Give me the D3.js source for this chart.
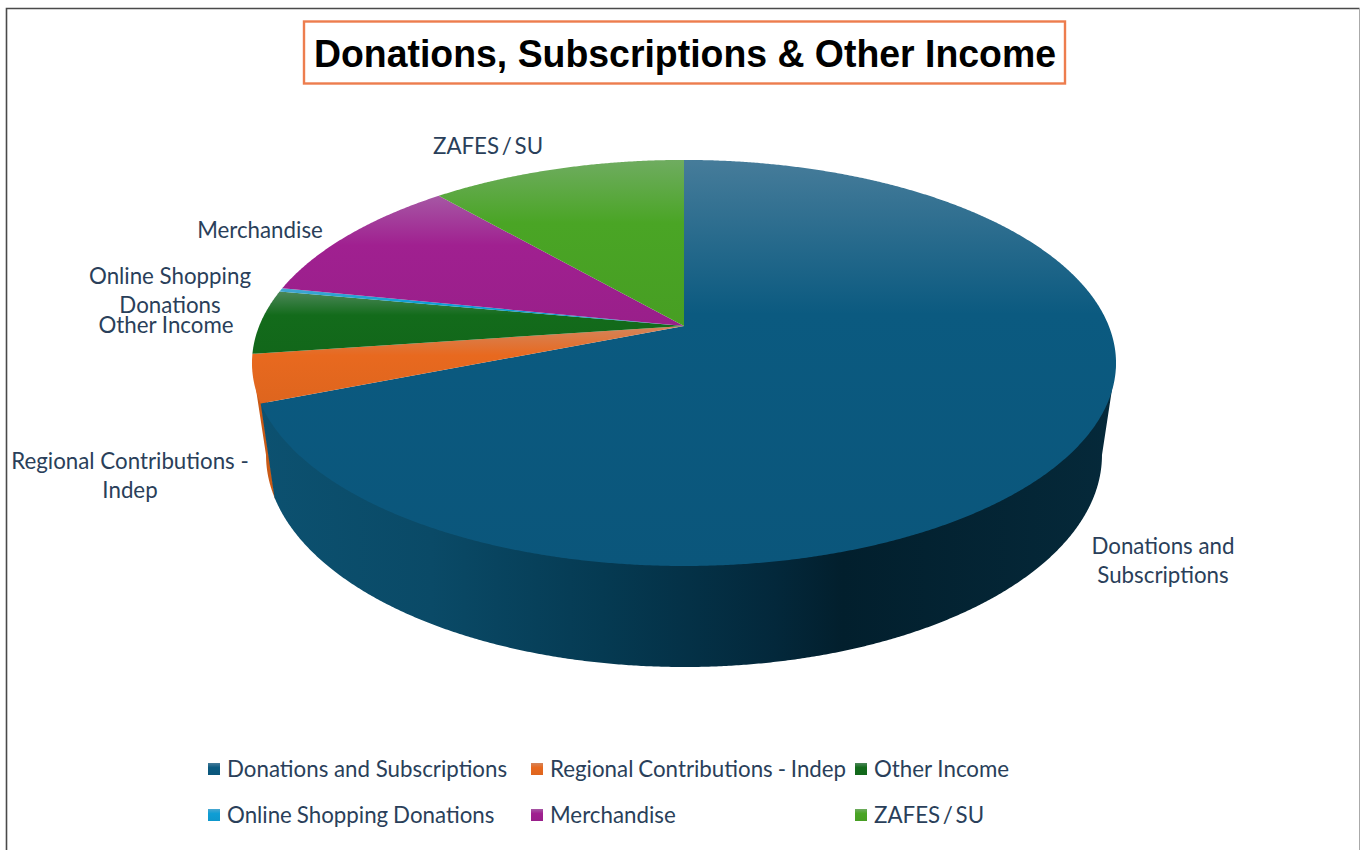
<!DOCTYPE html>
<html><head><meta charset="utf-8">
<style>html,body{margin:0;padding:0;background:#fff;overflow:hidden}svg{display:block}</style>
<script src="https://cdn.jsdelivr.net/npm/d3@7"></script></head>
<body><svg id="c" width="1360" height="850"></svg>
<script>
const categories = ["Donations and Subscriptions","Regional Contributions - Indep","Other Income","Online Shopping Donations","Merchandise","ZAFES / SU"];
const shares = [69.0,3.8,5.1,0.3,10.4,11.4];
const colors = ["#0b5a80","#e8691f","#136b1b","#0f9ed5","#a02090","#4aa525"];
const chartTitle = "Donations, Subscriptions & Other Income";
const sliceLabels = [["Donations and","Subscriptions"],["Regional Contributions -","Indep"],["Other Income"],["Online Shopping","Donations"],["Merchandise"],["ZAFES / SU"]];

// layout
const FONT = "Lato, 'Noto Sans', sans-serif";
const FONT_SIZE = 22.3;
const TEXT = "#2a3f5a";
const labelCentres = [[1163,546],[130,461],[166,325],[170,276],[260,230],[488,146]];
const lineGap = 29.3;
const legendCols = [208,531,855], legendRows = [769,815];
const cx = 684, k = 0.182;
const topRim = {A:424.8,B:196.3,y0:326};
const innerRim = {A:424.8*0.985,B:196.3*0.985,y0:326};
const botRim = {A:411,B:205,y0:416.4};
const proj = (r,a)=>{const u=Math.sin(a),v=Math.cos(a),w=1+k*v;return [cx+r.A*u/w,r.y0-r.B*v/w];};
const rimAngles = (a0,a1)=>{const n=Math.max(2,Math.ceil(Math.abs(a1-a0)/0.005));return d3.range(n+1).map(i=>a0+(a1-a0)*i/n);};
const line = d3.line();

const svg = d3.select("#c");
const defs = svg.append("defs");
const arcs = d3.pie().sort(null).value(d=>d)(shares);

colors.forEach((c,i)=>{
  const g = defs.append("linearGradient").attr("id","top"+i).attr("x1",0).attr("x2",0).attr("y1",0).attr("y2",1);
  const stops = [[0,d3.interpolateRgb(c,"#b0b8c8")(0.36)],[0.38,c],[1,d3.rgb(c).darker(0.12)]];
  g.selectAll("stop").data(stops).join("stop").attr("offset",d=>d[0]).attr("stop-color",d=>d[1]);
});
const wallStops = [[0,"#0c5170"],[0.2,"#0a4a67"],[0.4,"#053a52"],[0.6,"#03283b"],[0.68,"#021f2d"],[1,"#05293a"]];
const wg = defs.append("linearGradient").attr("id","wall").attr("x1",0).attr("x2",1).attr("y1",0).attr("y2",0);
wg.selectAll("stop").data(wallStops).join("stop").attr("offset",d=>d[0]).attr("stop-color",d=>d[1]);

// frame
svg.append("path").attr("d",line([[6.5,850],[6.5,8.5],[1359.5,8.5]])).attr("fill","none").attr("stroke","#4a4a4a").attr("stroke-width",1.6);
svg.append("line").attr("x1",1359.5).attr("x2",1359.5).attr("y1",8.5).attr("y2",850).attr("stroke","#aaa").attr("stroke-width",1);

// title
svg.append("rect").attr("x",304).attr("y",21.5).attr("width",761).attr("height",62).attr("fill","#fff").attr("stroke","#ed7d4e").attr("stroke-width",2.4);
svg.append("text").attr("x",685).attr("y",67).attr("text-anchor","middle").attr("font-family","'Liberation Sans',Arial,sans-serif").attr("font-weight",700).attr("font-size",39).attr("textLength",742).attr("lengthAdjust","spacingAndGlyphs").attr("fill","#000").text(chartTitle);

// walls: visible front rim between the ellipse's left and right extremes
const side0 = 100.5*Math.PI/180, side1 = 259.5*Math.PI/180;
const wall = (a0,a1)=>{
  const s=rimAngles(a0,a1);
  return line([proj(topRim,a0)].concat(s.map(a=>proj(innerRim,a)),[proj(topRim,a1)],s.slice().reverse().map(a=>proj(botRim,a))))+"Z";
};
const don = arcs[0], reg = arcs[1];
svg.append("path").attr("d",wall(reg.startAngle-0.01,side1)).attr("fill","#c95a16");
svg.append("path").attr("d",wall(side0,don.endAngle)).attr("fill","url(#wall)");

// top faces
svg.selectAll("path.top").data(arcs).join("path").attr("class","top")
  .attr("d",d=>line([[cx,topRim.y0]].concat(rimAngles(d.startAngle,d.endAngle).map(a=>proj(topRim,a))))+"Z")
  .attr("fill",(d,i)=>`url(#top${i})`);

// slice labels
sliceLabels.forEach((ls,i)=>{
  ls.forEach((t,j)=>{
    svg.append("text").attr("x",labelCentres[i][0]).attr("y",labelCentres[i][1]+j*lineGap+8)
      .attr("text-anchor","middle").attr("font-family",FONT).attr("font-size",FONT_SIZE).attr("word-spacing",t.includes("/")?-3:0).attr("fill",TEXT).text(t);
  });
});

// legend
categories.forEach((t,i)=>{
  const x=legendCols[i%3], y=legendRows[Math.floor(i/3)];
  svg.append("rect").attr("x",x).attr("y",y-6).attr("width",12).attr("height",12).attr("fill",`url(#top${i})`);
  svg.append("text").attr("x",x+19).attr("y",y+8).attr("font-family",FONT).attr("font-size",FONT_SIZE).attr("word-spacing",t.includes("/")?-3:(i===1||i===3?-0.8:0)).attr("fill",TEXT).text(t);
});
</script></body></html>
